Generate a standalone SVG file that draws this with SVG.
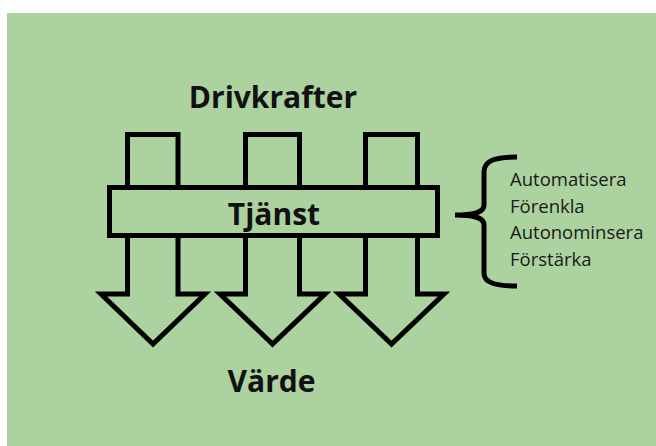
<svg xmlns="http://www.w3.org/2000/svg" width="656" height="446" viewBox="0 0 656 446">
<style>
.bg{fill:#acd2a0}
.shape{fill:#acd2a0;stroke:#000;stroke-width:5;stroke-linejoin:miter}
.title{font-family:"Open Sans","Noto Sans",sans-serif;font-weight:bold;font-size:30px;fill:#111;text-anchor:middle}
.item{font-family:"Open Sans","Noto Sans",sans-serif;font-size:18.5px;fill:#1a1a1a}
.brace{fill:none;stroke:#000;stroke-width:5;stroke-linecap:butt}
</style>
<rect width="656" height="446" fill="#fff"/>
<rect class="bg" x="7" y="13" width="649" height="433"/>
<g id="connectors">
<polygon id="arrow1" class="shape" points="127.5,134.5 178,134.5 178,294 205,294 153,344 101,294 127.5,294"/>
<polygon id="arrow2" class="shape" points="245.5,134.5 299.5,134.5 299.5,294 325,294 272.5,344 220,294 245.5,294"/>
<polygon id="arrow3" class="shape" points="365.5,134.5 417.5,134.5 417.5,294 444,294 391.5,344 339,294 365.5,294"/>
</g>
<g id="drivkrafter"><text class="title" x="273" y="108">Drivkrafter</text></g>
<g id="tjanst">
<rect class="shape" x="109.5" y="187.5" width="328" height="48"/>
<text class="title" x="274" y="225">Tjänst</text>
</g>
<g id="varde"><text class="title" x="271.5" y="392">Värde</text></g>
<g id="brace">
<path class="brace" d="M517,157 C496,157 484,160 484,172 L484,205 C484,212 476,215 455,215 C476,215 484,218 484,225 L484,273 C484,283 496,286 517,286"/>
</g>
<g id="list">
<text class="item" x="510" y="186">Automatisera</text>
<text class="item" x="510" y="212.5">Förenkla</text>
<text class="item" x="510" y="239">Autonominsera</text>
<text class="item" x="510" y="265.5">Förstärka</text>
</g>
</svg>
